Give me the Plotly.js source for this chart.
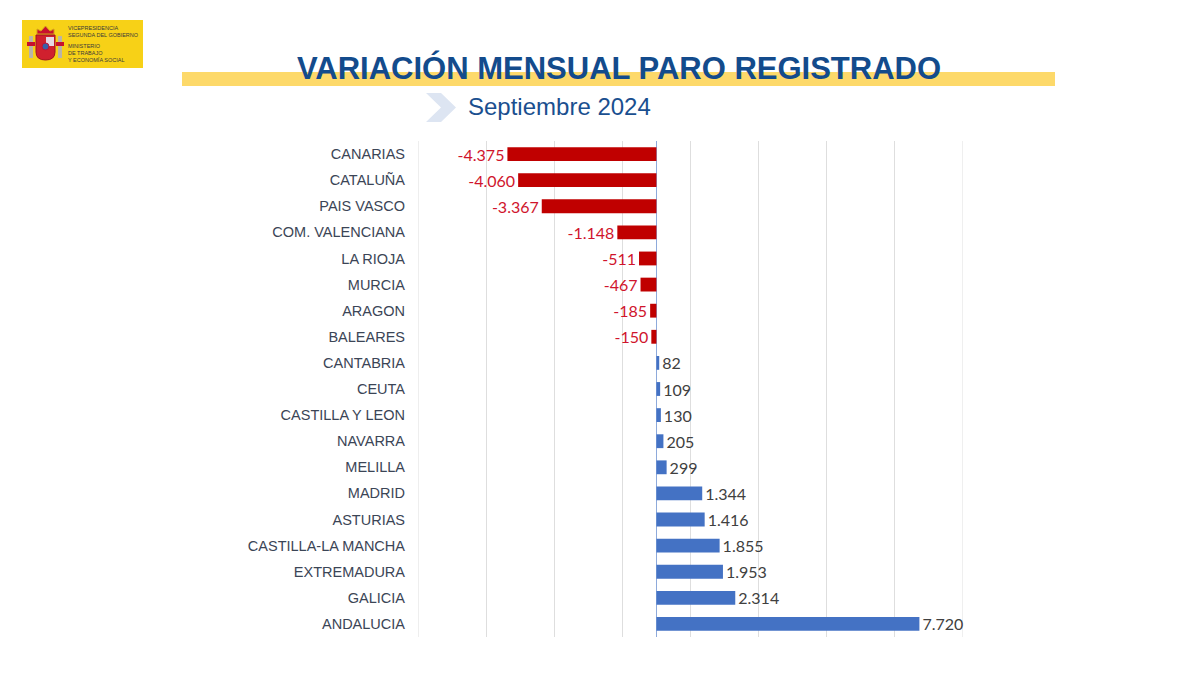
<!DOCTYPE html>
<html>
<head>
<meta charset="utf-8">
<script src="https://cdn.plot.ly/plotly-3.0.1.min.js"></script>
<style>
  html, body { margin: 0; padding: 0; background: #ffffff; }
  #chart { width: 1200px; height: 675px; }
</style>
</head>
<body>
<div id="chart"></div>
<script>
// ---- Data ----
const categories = ["CANARIAS", "CATALUÑA", "PAIS VASCO", "COM. VALENCIANA", "LA RIOJA", "MURCIA",
  "ARAGON", "BALEARES", "CANTABRIA", "CEUTA", "CASTILLA Y LEON", "NAVARRA", "MELILLA",
  "MADRID", "ASTURIAS", "CASTILLA-LA MANCHA", "EXTREMADURA", "GALICIA", "ANDALUCIA"];
const values = [-4375, -4060, -3367, -1148, -511, -467, -185, -150, 82, 109, 130, 205, 299,
  1344, 1416, 1855, 1953, 2314, 7720];
const titleText = "VARIACIÓN MENSUAL PARO REGISTRADO";
const subtitleText = "Septiembre 2024";
const logoLines1 = ["VICEPRESIDENCIA", "SEGUNDA DEL GOBIERNO"];
const logoLines2 = ["MINISTERIO", "DE TRABAJO", "Y ECONOMÍA SOCIAL"];
const axisRange = [-7000, 9000];

// ---- Layout geometry (pixels of the 1200x675 page) ----
const W = 1200, H = 675;
const plotL = 418, plotR = 963, plotT = 141, plotB = 637;
const px = x => (x - plotL) / (plotR - plotL);
const py = y => (plotB - y) / (plotB - plotT);

const negBar = "#c00000", posBar = "#4472c4";
const negText = "#d0142c", posText = "#404040";
const gridColor = "#dedede";

const trace = {
  type: "bar",
  orientation: "h",
  y: categories,
  x: values,
  marker: { color: values.map(v => v < 0 ? negBar : posBar) },
  texttemplate: "%{x:,}",
  textposition: "outside",
  constraintext: "none",
  textfont: { family: "Lato, 'Open Sans', sans-serif", size: 16, color: values.map(v => v < 0 ? negText : posText) },
  cliponaxis: false,
  hoverinfo: "skip"
};

const shapes = [
  // edge gridlines
  { type: "line", xref: "x", yref: "paper", x0: axisRange[0], x1: axisRange[0], y0: 0, y1: 1,
    line: { color: gridColor, width: 1 }, layer: "below" },
  { type: "line", xref: "x", yref: "paper", x0: axisRange[1], x1: axisRange[1], y0: 0, y1: 1,
    line: { color: gridColor, width: 1 }, layer: "below" },
  // yellow band behind title
  { type: "rect", xref: "paper", yref: "paper", x0: px(182), x1: px(1055), y0: py(86), y1: py(72),
    fillcolor: "#fdd96a", line: { width: 0 }, layer: "below" },
  // chevron
  { type: "path", xref: "paper", yref: "paper",
    path: `M ${px(426)} ${py(93)} L ${px(441)} ${py(93)} L ${px(456)} ${py(107.5)} L ${px(441)} ${py(122)} L ${px(426)} ${py(122)} L ${px(441)} ${py(107.5)} Z`,
    fillcolor: "#dde5f2", line: { width: 0 } },
  // logo background
  { type: "rect", xref: "paper", yref: "paper", x0: px(22), x1: px(143), y0: py(68), y1: py(20),
    fillcolor: "#f7d117", line: { width: 0 } },
  // pillars
  { type: "rect", xref: "paper", yref: "paper", x0: px(29), x1: px(33), y0: py(58), y1: py(36),
    fillcolor: "#b9b3a8", line: { width: 0 } },
  { type: "rect", xref: "paper", yref: "paper", x0: px(58), x1: px(62), y0: py(58), y1: py(36),
    fillcolor: "#b9b3a8", line: { width: 0 } },
  { type: "rect", xref: "paper", yref: "paper", x0: px(27), x1: px(35), y0: py(46), y1: py(42),
    fillcolor: "#c8102e", line: { width: 0 } },
  { type: "rect", xref: "paper", yref: "paper", x0: px(56), x1: px(64), y0: py(46), y1: py(42),
    fillcolor: "#c8102e", line: { width: 0 } },
  // crown
  { type: "path", xref: "paper", yref: "paper",
    path: `M ${px(37)} ${py(34)} L ${px(37)} ${py(29)} L ${px(41)} ${py(31)} L ${px(45.5)} ${py(26)} L ${px(50)} ${py(31)} L ${px(54)} ${py(29)} L ${px(54)} ${py(34)} Z`,
    fillcolor: "#c8102e", line: { color: "#d4a017", width: 1 } },
  // shield
  { type: "path", xref: "paper", yref: "paper",
    path: `M ${px(36)} ${py(35)} L ${px(55)} ${py(35)} L ${px(55)} ${py(52)} Q ${px(55)} ${py(60)} ${px(45.5)} ${py(60)} Q ${px(36)} ${py(60)} ${px(36)} ${py(52)} Z`,
    fillcolor: "#d0202e", line: { color: "#a01020", width: 1 } },
  { type: "rect", xref: "paper", yref: "paper", x0: px(46), x1: px(54), y0: py(46), y1: py(37),
    fillcolor: "#e6d8e4", line: { width: 0 } },
  { type: "circle", xref: "paper", yref: "paper", x0: px(42), x1: px(49), y0: py(50), y1: py(43),
    fillcolor: "#3a5fa8", line: { color: "#c8102e", width: 1 } }
];

const annotations = [
  { text: subtitleText, xref: "paper", yref: "paper", x: px(466), y: py(107), xanchor: "left", yanchor: "middle",
    showarrow: false, font: { family: "'Liberation Sans', Arial, sans-serif", size: 24, color: "#1a4f8f" } },
  { text: logoLines1.join("<br>"), xref: "paper", yref: "paper", x: px(66), y: py(31), xanchor: "left", yanchor: "middle",
    showarrow: false, align: "left", font: { family: "'Liberation Sans', Arial, sans-serif", size: 5.5, color: "#3a3a3a" } },
  { text: logoLines2.join("<br>"), xref: "paper", yref: "paper", x: px(66), y: py(53), xanchor: "left", yanchor: "middle",
    showarrow: false, align: "left", font: { family: "'Liberation Sans', Arial, sans-serif", size: 5.5, color: "#3a3a3a" } }
];

const layout = {
  width: W, height: H,
  margin: { l: plotL, r: W - plotR, t: plotT, b: H - plotB, pad: 0 },
  paper_bgcolor: "#ffffff",
  plot_bgcolor: "#ffffff",
  separators: ",.",
  showlegend: false,
  bargap: 0.47,
  title: {
    text: "<b>" + titleText + "</b>",
    x: 619 / W, xanchor: "center", xref: "container",
    y: 1 - 68 / H, yanchor: "middle", yref: "container",
    font: { family: "'Liberation Sans', Arial, sans-serif", size: 31, color: "#134b8c" }
  },
  xaxis: {
    range: axisRange,
    tick0: axisRange[0], dtick: 2000,
    showticklabels: false,
    showgrid: true, gridcolor: gridColor, gridwidth: 1,
    zeroline: true, zerolinecolor: "#8eaadb", zerolinewidth: 1.5,
    showline: false, ticks: "", fixedrange: true
  },
  yaxis: {
    type: "category",
    autorange: "reversed",
    showgrid: false, zeroline: false, showline: false, ticks: "",
    ticklabelstandoff: 12,
    tickfont: { family: "'Liberation Sans', Arial, sans-serif", size: 14.5, color: "#3b4556" },
    fixedrange: true
  },
  shapes: shapes,
  annotations: annotations
};

Plotly.newPlot("chart", [trace], layout, { displayModeBar: false, staticPlot: true });
</script>
</body>
</html>
